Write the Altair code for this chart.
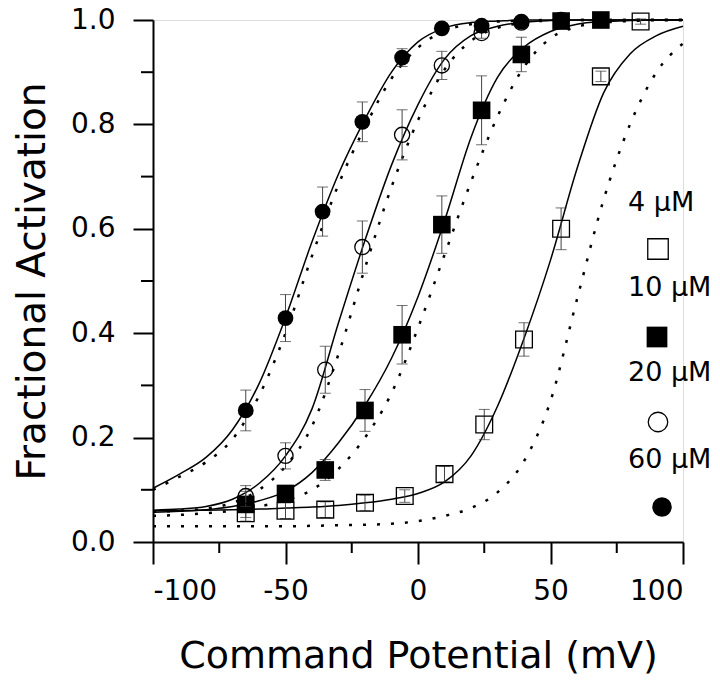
import altair as alt
import pandas as pd

# ---------------- data ----------------
X_GRID = [-100, -90, -80, -70, -60, -50, -40, -30, -20, -10, 0,
          10, 20, 30, 40, 50, 60, 70, 80, 90, 100]

# solid fits
S4 = [0.060, 0.060, 0.061, 0.062, 0.063, 0.065, 0.067, 0.070, 0.075, 0.082, 0.093,
      0.115, 0.165, 0.260, 0.390, 0.540, 0.715, 0.860, 0.935, 0.970, 0.988]
S10 = [0.057, 0.059, 0.062, 0.068, 0.079, 0.097, 0.133, 0.190, 0.262, 0.352, 0.470,
       0.615, 0.775, 0.890, 0.948, 0.978, 0.992, 0.997, 0.999, 1.0, 1.0]
S20 = [0.061, 0.063, 0.068, 0.082, 0.112, 0.165, 0.255, 0.420, 0.578, 0.722, 0.838,
       0.925, 0.970, 0.988, 0.996, 0.999, 1.0, 1.0, 1.0, 1.0, 1.0]
S60 = [0.103, 0.130, 0.162, 0.215, 0.303, 0.430, 0.575, 0.705, 0.810, 0.900, 0.958,
       0.985, 0.995, 0.998, 1.0, 1.0, 1.0, 1.0, 1.0, 1.0, 1.0]
# dotted fits
D4 = [0.030, 0.030, 0.030, 0.030, 0.030, 0.030, 0.031, 0.032, 0.033, 0.035, 0.040,
      0.050, 0.065, 0.095, 0.155, 0.270, 0.465, 0.655, 0.800, 0.900, 0.955]
D10 = [0.050, 0.052, 0.055, 0.060, 0.068, 0.080, 0.100, 0.140, 0.200, 0.285, 0.410,
       0.550, 0.690, 0.815, 0.910, 0.965, 0.987, 0.995, 0.998, 1.0, 1.0]
D20 = [0.058, 0.060, 0.064, 0.075, 0.100, 0.145, 0.222, 0.360, 0.525, 0.680, 0.808,
       0.905, 0.960, 0.985, 0.995, 0.999, 1.0, 1.0, 1.0, 1.0, 1.0]
D60 = [0.100, 0.125, 0.153, 0.197, 0.280, 0.400, 0.548, 0.685, 0.795, 0.888, 0.947,
       0.979, 0.992, 0.997, 0.999, 1.0, 1.0, 1.0, 1.0, 1.0, 1.0]

# measured points (mean +/- error)
V_4 = [-65, -50, -35, -20, -5, 10, 25, 40, 54, 69, 84]
Y_4 = [0.055, 0.060, 0.062, 0.075, 0.088, 0.130, 0.225, 0.388, 0.600, 0.892, 0.997]
E_4 = [0.015, 0.015, 0.015, 0.015, 0.012, 0.015, 0.029, 0.032, 0.040, 0.010, 0.005]

V_10 = [-65, -50, -35, -20, -6, 9, 24, 39, 54, 69]
Y_10 = [0.072, 0.093, 0.138, 0.252, 0.397, 0.608, 0.827, 0.934, 0.998, 1.000]
E_10 = [0.025, 0.015, 0.020, 0.040, 0.056, 0.055, 0.066, 0.033, 0.004, 0.004]

V_20 = [-65, -50, -35, -21, -6, 9, 24, 39, 54, 69]
Y_20 = [0.088, 0.165, 0.330, 0.565, 0.780, 0.913, 0.975, 0.995, 1.000, 1.000]
E_20 = [0.020, 0.025, 0.045, 0.050, 0.048, 0.027, 0.010, 0.005, 0.003, 0.003]

V_60 = [-65, -50, -36, -21, -6, 9, 24, 39, 54, 69]
Y_60 = [0.252, 0.429, 0.633, 0.805, 0.928, 0.984, 0.989, 0.997, 1.000, 1.000]
E_60 = [0.039, 0.045, 0.047, 0.038, 0.017, 0.008, 0.006, 0.004, 0.003, 0.003]

LEGEND_LABELS = ["4 \u00b5M", "10 \u00b5M", "20 \u00b5M", "60 \u00b5M"]
X_TICKS = [-100, -50, 0, 50, 100]
X_MINOR = [-75, -25, 25, 75]
Y_TICKS = [0.0, 0.2, 0.4, 0.6, 0.8, 1.0]
Y_MINOR = [0.1, 0.3, 0.5, 0.7, 0.9]

# ---------------- layout / style ----------------
W, H = 530, 522
FONT = "DejaVu Sans"

xscale = alt.Scale(domain=[-100, 100], nice=False, zero=False)
yscale = alt.Scale(domain=[0, 1], nice=False)

x_axis = alt.Axis(values=X_TICKS, labelExpr="'' + datum.value", tickSize=22, tickWidth=2,
                  tickColor="black", domainColor="black", domainWidth=2, grid=False,
                  labelFont=FONT, labelFontSize=28, labelColor="black", labelPadding=13,
                  title="Command Potential (mV)", titleFont=FONT, titleFontSize=38,
                  titleFontWeight="normal", titleColor="black", titleX=W / 2, titleY=114,
                  titleBaseline="middle", titleAlign="center")
y_axis = alt.Axis(values=Y_TICKS, format=".1f", tickSize=20, tickWidth=2,
                  tickColor="black", domainColor="black", domainWidth=2, grid=False,
                  labelFont=FONT, labelFontSize=28, labelColor="black", labelPadding=18,
                  title="Fractional Activation", titleFont=FONT, titleFontSize=39,
                  titleFontWeight="normal", titleColor="black", titleX=-121, titleY=H / 2,
                  titleAngle=-90, titleBaseline="middle", titleAlign="center")

rows = []
for name, arr, style in [("4s", S4, "solid"), ("10s", S10, "solid"), ("20s", S20, "solid"),
                         ("60s", S60, "solid"), ("4d", D4, "dot"), ("10d", D10, "dot"),
                         ("20d", D20, "dot"), ("60d", D60, "dot")]:
    for xv, yv in zip(X_GRID, arr):
        rows.append({"x": xv, "y": yv, "curve": name, "style": style})
curves = pd.DataFrame(rows)

solid = alt.Chart(curves).transform_filter("datum.style == 'solid'").mark_line(
    color="black", strokeWidth=1.5, interpolate="monotone"
).encode(x=alt.X("x:Q", scale=xscale, axis=x_axis),
         y=alt.Y("y:Q", scale=yscale, axis=y_axis),
         detail="curve:N")

dotted = alt.Chart(curves).transform_filter("datum.style == 'dot'").mark_line(
    color="black", strokeWidth=2.5, strokeDash=[3, 11], interpolate="monotone"
).encode(x=alt.X("x:Q", scale=xscale), y=alt.Y("y:Q", scale=yscale), detail="curve:N")


def pts(v, y, e):
    return pd.DataFrame({"x": v, "y": y, "lo": [a - b for a, b in zip(y, e)],
                         "hi": [a + b for a, b in zip(y, e)]})


series = [
    (pts(V_4, Y_4, E_4), "square", False, 280),
    (pts(V_10, Y_10, E_10), "square", True, 310),
    (pts(V_20, Y_20, E_20), "circle", False, 230),
    (pts(V_60, Y_60, E_60), "circle", True, 250),
]

layers = [solid, dotted]
for df, shape, filled, size in series:
    base = alt.Chart(df)
    layers.append(base.mark_rule(color="#444444", strokeWidth=1).encode(
        x=alt.X("x:Q", scale=xscale), y=alt.Y("lo:Q", scale=yscale), y2="hi:Q"))
    layers.append(base.mark_tick(color="#333333", thickness=1, size=11, orient="horizontal").encode(
        x=alt.X("x:Q", scale=xscale), y=alt.Y("hi:Q", scale=yscale)))
    layers.append(base.mark_tick(color="#333333", thickness=1, size=11, orient="horizontal").encode(
        x=alt.X("x:Q", scale=xscale), y=alt.Y("lo:Q", scale=yscale)))
    if filled:
        mk = base.mark_point(shape=shape, filled=True, color="black", size=size, opacity=1)
    else:
        mk = base.mark_point(shape=shape, filled=False, color="black", size=size,
                             strokeWidth=1.3, opacity=1)
    layers.append(mk.encode(x=alt.X("x:Q", scale=xscale), y=alt.Y("y:Q", scale=yscale)))

# minor ticks
layers.append(alt.Chart(pd.DataFrame({"x": X_MINOR})).mark_rule(color="black", strokeWidth=2).encode(
    x=alt.X("x:Q", scale=xscale), y=alt.value(H), y2=alt.value(H + 11)))
layers.append(alt.Chart(pd.DataFrame({"y": Y_MINOR})).mark_rule(color="black", strokeWidth=2).encode(
    y=alt.Y("y:Q", scale=yscale), x=alt.value(-12), x2=alt.value(0)))

# custom legend (label above symbol)
one = pd.DataFrame({"a": [0]})
LEG_TEXT_Y = [183, 268, 353, 440]
LEG_SYM_Y = [229, 317, 402, 487]
LEG_SYM_X = [505, 504, 505, 509]
for i, (lab, (df, shape, filled, size)) in enumerate(zip(LEGEND_LABELS, series)):
    layers.append(alt.Chart(one).mark_text(text=lab, font=FONT, fontSize=27, color="black",
                                           align="left", baseline="middle").encode(
        x=alt.value(475), y=alt.value(LEG_TEXT_Y[i])))
    if filled:
        sym = alt.Chart(one).mark_point(shape=shape, filled=True, color="black",
                                        size=430 if shape == "square" else 380, opacity=1)
    else:
        sym = alt.Chart(one).mark_point(shape=shape, filled=False, color="black",
                                        size=420 if shape == "square" else 380,
                                        strokeWidth=1.3, opacity=1)
    layers.append(sym.encode(x=alt.value(LEG_SYM_X[i]), y=alt.value(LEG_SYM_Y[i])))

chart = alt.layer(*layers).properties(
    width=W, height=H,
    autosize=alt.AutoSizeParams(type="none"),
    padding={"left": 145, "top": 12, "right": 28, "bottom": 137},
).configure_view(strokeWidth=0).configure(background="white")

chart.save("out.html", embed_options={"renderer": "svg", "actions": False})
